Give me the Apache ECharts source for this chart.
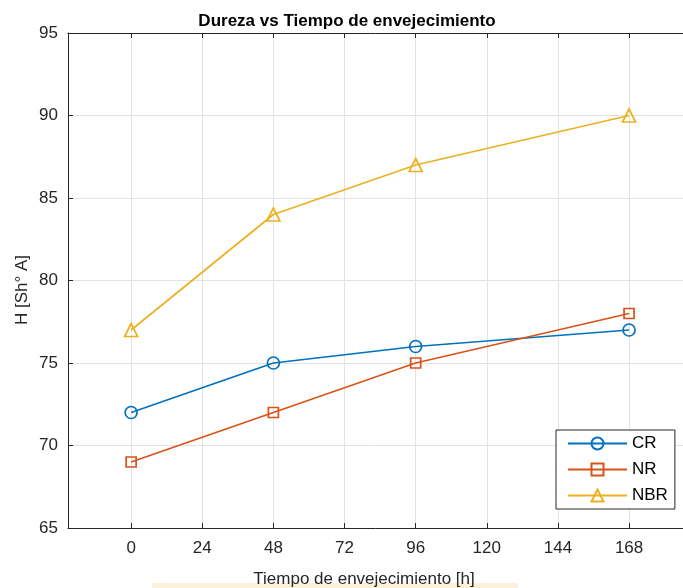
<!DOCTYPE html>
<html>
<head>
<meta charset="utf-8">
<script src="https://cdn.jsdelivr.net/npm/echarts@6/dist/echarts.min.js"></script>
<style>
  html, body { margin: 0; padding: 0; background: #fff; }
  #chart { width: 683px; height: 588px; }
</style>
</head>
<body>
<div id="chart"></div>
<script>
// Aging time (hours) and Shore A hardness per material
const hours = [0, 48, 96, 168];
const hardnessCR = [72, 75, 76, 77];
const hardnessNR = [69, 72, 75, 78];
const hardnessNBR = [77, 84, 87, 90];
const xTicks = [0, 24, 48, 72, 96, 120, 144, 168];

const FONT = 'Liberation Sans, Arial, Helvetica, sans-serif';
const AXIS = '#262626';
const GRID = '#e3e3e3';

function pairs(xs, ys) {
  return xs.map((x, i) => [x, ys[i]]);
}

function lineSeries(name, color, ys, symbol, size) {
  return {
    name: name,
    type: 'line',
    data: pairs(hours, ys),
    symbol: symbol,
    symbolSize: size,
    showAllSymbol: true,
    lineStyle: { color: color, width: 1.7 },
    itemStyle: { color: 'rgba(255,255,255,0)', borderColor: color, borderWidth: 1.7 },
    emphasis: { disabled: true },
    animation: false,
    z: 3
  };
}

const chart = echarts.init(document.getElementById('chart'), null, { renderer: 'canvas' });

chart.setOption({
  backgroundColor: '#fff',
  animation: false,
  title: {
    text: 'Dureza vs Tiempo de envejecimiento',
    left: 342,
    textAlign: 'center',
    top: 8,
    textStyle: { fontFamily: FONT, fontSize: 17, fontWeight: 'bold', color: '#000' }
  },
  grid: { left: 68, right: 0, top: 33, bottom: 60, containLabel: false },
  xAxis: [
    {
      type: 'value',
      min: -21.3,
      max: 186.2,
      position: 'bottom',
      axisLine: { show: true, onZero: false, lineStyle: { color: AXIS, width: 1 } },
      axisTick: { show: true, inside: true, length: 5, customValues: xTicks, lineStyle: { color: AXIS } },
      axisLabel: { customValues: xTicks, margin: 12, fontFamily: FONT, fontSize: 17, color: AXIS },
      splitLine: { show: true, lineStyle: { color: GRID, width: 1 } }
    },
    {
      type: 'value',
      min: -21.3,
      max: 186.2,
      position: 'top',
      axisLine: { show: true, onZero: false, lineStyle: { color: AXIS, width: 1 } },
      axisTick: { show: true, inside: true, length: 5, customValues: xTicks, lineStyle: { color: AXIS } },
      axisLabel: { show: false },
      splitLine: { show: false }
    }
  ],
  yAxis: {
    type: 'value',
    min: 65,
    max: 95,
    interval: 5,
    axisLine: { show: true, onZero: false, lineStyle: { color: AXIS, width: 1 } },
    axisTick: { show: true, inside: true, length: 5, lineStyle: { color: AXIS } },
    axisLabel: { margin: 10, fontFamily: FONT, fontSize: 17, color: AXIS },
    splitLine: { show: true, lineStyle: { color: GRID, width: 1 } }
  },
  legend: {
    orient: 'vertical',
    left: 556,
    top: 430,
    backgroundColor: '#fff',
    borderColor: AXIS,
    borderWidth: 1,
    borderRadius: 0,
    padding: [5, 7, 5, 11],
    itemWidth: 59,
    itemHeight: 15,
    itemGap: 9,
    textStyle: { fontFamily: FONT, fontSize: 17, color: '#000' },
    data: ['CR', 'NR', 'NBR']
  },
  series: [
    lineSeries('CR', '#0072BD', hardnessCR, 'circle', 12),
    lineSeries('NR', '#D95319', hardnessNR, 'rect', 10),
    lineSeries('NBR', '#EDB120', hardnessNBR, 'triangle', 13)
  ],
  graphic: [
    {
      type: 'rect',
      shape: { x: 152, y: 583, width: 366, height: 5 },
      style: { fill: '#fdf1dc' },
      z: 0,
      silent: true
    },
    {
      type: 'text',
      x: 364,
      y: 579,
      style: {
        text: 'Tiempo de envejecimiento [h]',
        fontFamily: FONT,
        fontSize: 17,
        fill: AXIS,
        align: 'center',
        verticalAlign: 'middle'
      },
      z: 5,
      silent: true
    },
    {
      type: 'text',
      x: 22,
      y: 290,
      rotation: Math.PI / 2,
      style: {
        text: 'H [Sh\u00b0 A]',
        fontFamily: FONT,
        fontSize: 17,
        fill: AXIS,
        align: 'center',
        verticalAlign: 'middle'
      },
      silent: true
    }
  ]
});
</script>
</body>
</html>
